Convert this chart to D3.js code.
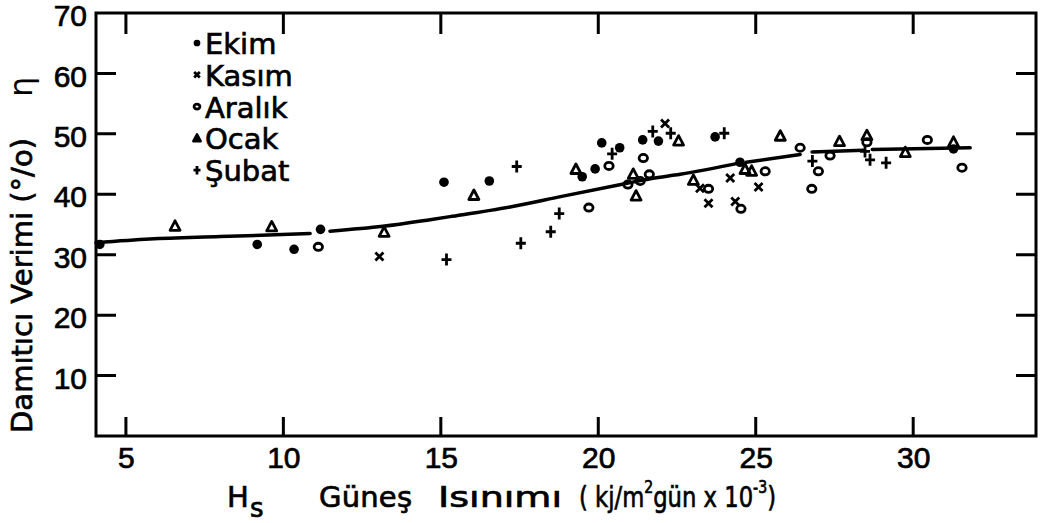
<!DOCTYPE html>
<html>
<head>
<meta charset="utf-8">
<script src="https://cdn.jsdelivr.net/npm/d3@7"></script>
<style>
  body { margin: 0; background: #fff; }
  svg { display: block; }
  text { fill: #000; }
</style>
</head>
<body>
<svg width="1042" height="523"></svg>
<script>
// readings taken off the scanned figure: [Hs (kJ/m2 gün x 10^-3), verim %]
const ekim = [[4.17,31.7],[9.17,31.7],[10.34,30.9],[11.18,34.2],[15.1,42.0],[16.54,42.2],[19.49,42.9],[19.9,44.2],[20.11,48.5],[20.68,47.7],[21.41,49.0],[21.91,48.8],[23.71,49.5],[24.5,45.3],[31.28,47.5]];
const kasim = [[13.05,29.7],[22.12,51.7],[23.23,41.0],[23.5,38.5],[24.19,42.7],[24.35,38.8],[25.09,41.2]];
const aralik = [[11.11,31.3],[19.7,37.8],[20.34,44.7],[20.94,41.6],[21.33,42.2],[21.43,46.0],[21.62,43.3],[23.5,40.9],[24.53,37.6],[25.3,43.8],[26.41,47.7],[26.78,40.9],[26.99,43.8],[27.36,46.4],[28.53,48.6],[30.45,49.0],[31.55,44.4]];
const ocak = [[6.56,34.7],[9.63,34.6],[13.2,33.7],[16.05,39.8],[19.29,44.1],[21.11,43.3],[21.2,39.7],[22.55,48.8],[23.02,42.3],[24.66,44.1],[24.87,43.8],[25.78,49.6],[27.66,48.7],[28.53,49.7],[29.75,46.9],[31.28,48.6]];
const subat = [[15.18,29.2],[17.41,44.6],[17.54,31.9],[18.49,33.8],[18.76,36.8],[20.44,46.7],[21.73,50.4],[22.3,50.1],[24.0,50.1],[26.8,45.5],[28.47,47.1],[28.63,45.7],[29.14,45.2]];

// hand drawn fit line, null = break in the pen stroke
const fitCurve = [[4.05,32.0],[5.76,32.6],[7.99,33.0],[10.85,33.5],null,
  [11.48,33.9],[13.16,34.7],[14.66,35.8],[15.29,36.3],[17.2,37.9],[18.88,39.7],[20.8,41.7],[21.7,42.6],[22.6,43.3],[24.5,45.2],null,
  [24.7,45.3],[26.41,46.6],null,[26.79,47.0],[28.41,47.3],null,[28.7,47.4],[31.81,47.7]];

const xTicks = [5, 10, 15, 20, 25, 30];
const yTicks = [10, 20, 30, 40, 50, 60, 70];
const legendNames = ['Ekim', 'Kasım', 'Aralık', 'Ocak', 'Şubat'];

const svg = d3.select('svg');

const x = d3.scaleLinear().domain([4.05, 33.9]).range([96, 1036]);
const y = d3.scaleLinear().domain([0, 70]).range([436, 13]);
const [x0, x1] = x.range();
const [y0, y1] = y.range();

const numFont = '"Liberation Sans", Arial, sans-serif';
const txtFont = '"DejaVu Sans", sans-serif';

// frame traced as one pen stroke, with the inward ticks as spikes on it
const frame = d3.path();
frame.moveTo(x0, y0);
xTicks.forEach(v => { frame.lineTo(x(v), y0); frame.lineTo(x(v), y0 - 19); frame.lineTo(x(v), y0); });
frame.lineTo(x1, y0);
yTicks.slice(0, -1).forEach(v => { frame.lineTo(x1, y(v)); frame.lineTo(x1 - 20, y(v)); frame.lineTo(x1, y(v)); });
frame.lineTo(x1, y1);
xTicks.slice().reverse().forEach(v => { frame.lineTo(x(v), y1); frame.lineTo(x(v), y1 + 21); frame.lineTo(x(v), y1); });
frame.lineTo(x0, y1);
yTicks.slice().reverse().forEach(v => { frame.lineTo(x0, y(v)); frame.lineTo(x0 + 20, y(v)); frame.lineTo(x0, y(v)); });
frame.closePath();

svg.append('path')
    .attr('d', frame.toString())
    .attr('fill', 'none').attr('stroke', '#000').attr('stroke-width', 3)
    .attr('stroke-linejoin', 'miter').attr('stroke-miterlimit', 2);

function styleAxis(g) {
    g.select('.domain').remove();
    g.selectAll('.tick line').remove();
    g.selectAll('text').attr('font-family', numFont).attr('font-size', 30)
        .attr('fill', '#000').attr('stroke', '#000').attr('stroke-width', 0.7);
}

svg.append('g')
    .attr('transform', `translate(0,${y0})`)
    .call(d3.axisBottom(x).tickValues(xTicks).tickSize(0).tickPadding(11))
    .call(styleAxis);

svg.append('g')
    .attr('transform', `translate(${x0},0)`)
    .call(d3.axisLeft(y).tickValues(yTicks).tickSize(0).tickPadding(9))
    .call(styleAxis)
    .call(g => g.selectAll('text').attr('dy', '0.42em'));

// fit line
const line = d3.line()
    .defined(d => d)
    .x(d => x(d[0]))
    .y(d => y(d[1]))
    .curve(d3.curveMonotoneX);

svg.append('path')
    .attr('d', line(fitCurve))
    .attr('fill', 'none')
    .attr('stroke', '#000')
    .attr('stroke-width', 3.5)
    .attr('stroke-linecap', 'round');

// markers
function drawMarker(g, kind, s) {
    if (kind === 'dot') {
        g.append('circle').attr('r', 4.8 * s).attr('fill', '#000');
    } else if (kind === 'x') {
        g.append('path').attr('d', `M${-4*s},${-4*s}L${4*s},${4*s}M${4*s},${-4*s}L${-4*s},${4*s}`)
            .attr('stroke', '#000').attr('stroke-width', 2.8);
    } else if (kind === 'o') {
        g.append('ellipse').attr('rx', 4.2 * s).attr('ry', 3.6 * s)
            .attr('fill', 'none').attr('stroke', '#000').attr('stroke-width', 2.8);
    } else if (kind === 'tri') {
        g.append('path').attr('d', `M0,${-5.5*s}L${5*s},${4*s}L${-5*s},${4*s}Z`)
            .attr('fill', s < 1 ? '#000' : 'none').attr('stroke', '#000').attr('stroke-width', 2.8)
            .attr('stroke-linejoin', 'round');
    } else {
        g.append('path').attr('d', `M${-5*s},0H${5*s}M0,${-6*s}V${6*s}`)
            .attr('stroke', '#000').attr('stroke-width', 2.8);
    }
}

const series = [
    { data: ekim, kind: 'dot' },
    { data: kasim, kind: 'x' },
    { data: aralik, kind: 'o' },
    { data: ocak, kind: 'tri' },
    { data: subat, kind: 'plus' }
];

series.forEach(sr => {
    svg.append('g').selectAll('g')
        .data(sr.data)
        .enter().append('g')
        .attr('transform', d => `translate(${x(d[0])},${y(d[1])})`)
        .each(function () { drawMarker(d3.select(this), sr.kind, 1); });
});

const heavy = g => g.attr('stroke', '#000').attr('stroke-width', 0.7);

// legend
const legend = svg.append('g');
legendNames.forEach((name, i) => {
    const by = 54 + i * 31.8;
    const item = legend.append('g');
    const sym = item.append('g').attr('transform', `translate(197,${by - 11})`);
    drawMarker(sym, series[i].kind, 0.7);
    item.append('text')
        .attr('x', 205).attr('y', by)
        .attr('font-family', txtFont).attr('font-size', 29)
        .call(heavy)
        .text(name);
});

// x axis title
const xt = svg.append('g').attr('font-family', txtFont).attr('font-size', 29);
xt.append('text').attr('x', 227).attr('y', 507).call(heavy).text('H');
xt.append('text').attr('x', 250).attr('y', 517).attr('font-size', 26).call(heavy).text('s');
xt.append('text').attr('x', 319).attr('y', 507).attr('textLength', 93).call(heavy).text('Güneş');
xt.append('text').attr('x', 438).attr('y', 507).attr('textLength', 124)
    .attr('lengthAdjust', 'spacingAndGlyphs').call(heavy).text('Isınımı');
const unit = xt.append('text').attr('x', 579).attr('y', 507)
    .attr('textLength', 197).attr('lengthAdjust', 'spacingAndGlyphs').call(heavy);
unit.append('tspan').text('( kj/m');
unit.append('tspan').attr('dy', -14).attr('font-size', 18).text('2');
unit.append('tspan').attr('dy', 14).text('gün x 10');
unit.append('tspan').attr('dy', -14).attr('font-size', 18).text('-3');
unit.append('tspan').attr('dy', 14).text(')');

// y axis title
svg.append('text')
    .attr('transform', 'translate(32,433) rotate(-90)')
    .attr('font-family', txtFont).attr('font-size', 29)
    .attr('textLength', 295)
    .call(heavy)
    .text('Damıtıcı Verimi (°/o)');
svg.append('text')
    .attr('transform', 'translate(32,97) rotate(-90)')
    .attr('font-family', txtFont).attr('font-size', 32)
    .text('η');
</script>
</body>
</html>
